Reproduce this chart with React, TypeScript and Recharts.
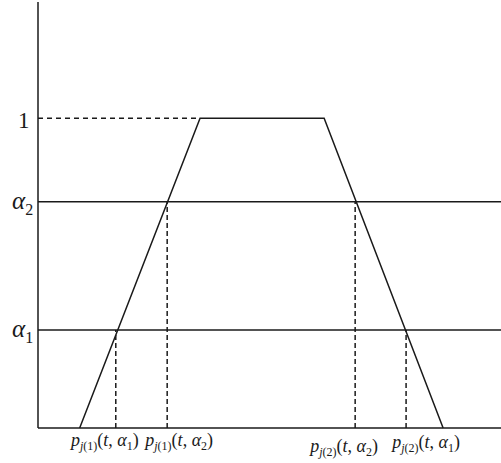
import React from "react";
import {
  ComposedChart, Line, XAxis, YAxis, ReferenceLine,
} from "recharts";

// trapezoid membership function (x in arbitrary units, y = membership)
const trapX = [0.9, 3.5, 6.18, 8.75];
const trapY = [0, 1, 1, 0];

// alpha levels
const alphaNames = ["1", "2"];
const alphaValues = [0.316, 0.73];

// alpha-cut end points
const cutX = [1.68, 2.79, 6.85, 7.95];
const cutLevel = [0.316, 0.73, 0.73, 0.316];
const cutSide = ["1", "1", "2", "2"];
const cutAlpha = ["1", "2", "2", "1"];

const yTicks = [alphaValues[0], alphaValues[1], 1];

const trapData = trapX.map((x, i) => ({ x, y: trapY[i] }));

const INK = "#1a1a1a";
const FONT = "'Liberation Serif', 'Times New Roman', serif";

// label nudges (style only)
const xLabelDx = [-11, 12, -11, 20];
const xLabelDy = [10, 10, 16, 12];

function XTick({ x, y, index }: any) {
  const side = cutSide[index];
  const a = cutAlpha[index];
  return (
    <text
      x={x + xLabelDx[index]}
      y={y + xLabelDy[index]}
      textAnchor="middle"
      fontFamily={FONT}
      fontSize={18}
      fill={INK}
    >
      <tspan fontStyle="italic">p</tspan>
      <tspan fontSize={12} dy={4} fontStyle="italic">j</tspan>
      <tspan fontSize={12}>({side})</tspan>
      <tspan dy={-4}>(</tspan>
      <tspan fontStyle="italic">t</tspan>
      <tspan>, </tspan>
      <tspan fontStyle="italic">α</tspan>
      <tspan fontSize={12} dy={4}>{a}</tspan>
      <tspan dy={-4}>)</tspan>
    </text>
  );
}

function YTick({ y, payload }: any) {
  if (payload.value === 1) {
    return (
      <text x={18} y={y + 10} fontFamily={FONT} fontSize={23} fill={INK}>1</text>
    );
  }
  const idx = alphaValues.indexOf(payload.value);
  return (
    <text x={12} y={y + 7} fontFamily={FONT} fontSize={25} fill={INK}>
      <tspan fontStyle="italic">α</tspan>
      <tspan fontSize={16} dy={6}>{alphaNames[idx]}</tspan>
    </text>
  );
}

export default function App() {
  return (
    <div style={{ width: 501, height: 463, background: "#fff" }}>
      <style>{"body{margin:0}"}</style>
      <ComposedChart
        width={501}
        height={463}
        data={trapData}
        margin={{ top: 2, right: 0, left: 0, bottom: 0 }}
      >
        <XAxis
          type="number"
          dataKey="x"
          domain={[0, 10]}
          ticks={cutX}
          tick={<XTick />}
          tickLine={false}
          axisLine={{ stroke: INK, strokeWidth: 1.5 }}
          height={35}
          interval={0}
        />
        <YAxis
          type="number"
          domain={[0, 1.375]}
          ticks={yTicks}
          tick={<YTick />}
          tickLine={false}
          axisLine={{ stroke: INK, strokeWidth: 1.5 }}
          width={38}
          interval={0}
        />
        {alphaValues.map((v) => (
          <ReferenceLine key={v} y={v} stroke={INK} strokeWidth={1.5} />
        ))}
        <ReferenceLine
          segment={[{ x: 0, y: 1 }, { x: trapX[1], y: 1 }]}
          stroke={INK}
          strokeWidth={1.5}
          strokeDasharray="5 4"
        />
        {cutX.map((cx, i) => (
          <ReferenceLine
            key={cx}
            segment={[{ x: cx, y: 0 }, { x: cx, y: cutLevel[i] }]}
            stroke={INK}
            strokeWidth={1.5}
            strokeDasharray="5 3"
          />
        ))}
        <Line
          type="linear"
          dataKey="y"
          stroke={INK}
          strokeWidth={1.5}
          dot={false}
          isAnimationActive={false}
        />
      </ComposedChart>
    </div>
  );
}
